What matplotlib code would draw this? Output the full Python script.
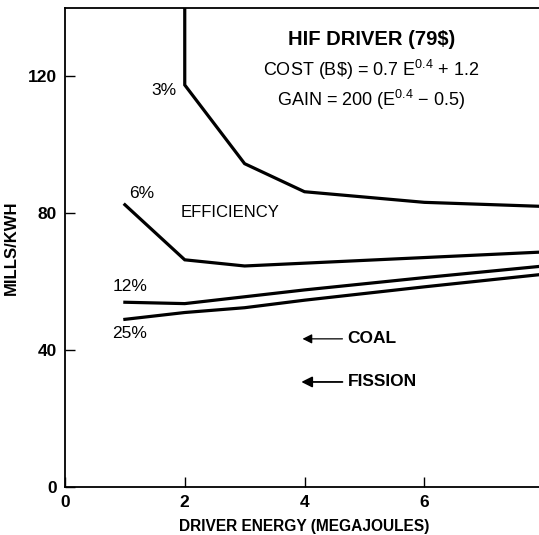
import matplotlib.pyplot as plt

plt.rcParams['font.family'] = ['Liberation Sans', 'DejaVu Sans']
plt.rcParams['mathtext.fontset'] = 'custom'
plt.rcParams['mathtext.rm'] = 'Liberation Sans'

# efficiency curves (driver energy MJ -> mills/kWh)
energy_3 = [2, 2, 3, 4, 6, 8]
mills_3 = [140, 117.5, 94.5, 86.3, 83.2, 82.0]
energy_6 = [1, 2, 3, 8]
mills_6 = [82.5, 66.4, 64.6, 68.7]
energy_12 = [1, 2, 3, 4, 6, 8]
mills_12 = [54.0, 53.6, 55.6, 57.6, 61.2, 64.6]
energy_25 = [1, 2, 3, 4, 6, 8]
mills_25 = [49.0, 51.0, 52.4, 54.6, 58.5, 62.2]

coal_level = 43.3
fission_level = 30.7

x_ticks = [0, 2, 4, 6, 8]
y_ticks = [0, 40, 80, 120]

W, H = 539, 535
fig = plt.figure(figsize=(W / 100, H / 100), dpi=100)
# the right end of the axis runs past the edge of the page in the original
ax = fig.add_axes([65 / W, (H - 487) / H, 479 / W, 479 / H])

for xs, ys in [(energy_3, mills_3), (energy_6, mills_6),
               (energy_12, mills_12), (energy_25, mills_25)]:
    ax.plot(xs, ys, color='black', lw=2.3, solid_joinstyle='miter')

ax.set_xlim(0, 8)
ax.set_ylim(0, 140)
ax.set_xticks(x_ticks)
ax.set_yticks(y_ticks)
ax.tick_params(direction='in', length=7, width=1, labelsize=12.5, pad=6)
for lab in ax.get_xticklabels() + ax.get_yticklabels():
    lab.set_fontweight('bold')
for s in ['left', 'bottom', 'top']:
    ax.spines[s].set_linewidth(1.3)
ax.spines['right'].set_visible(False)

ax.set_xlabel('DRIVER ENERGY (MEGAJOULES)', fontsize=11.2, fontweight='bold', labelpad=6)
ax.set_ylabel('MILLS/KWH', fontsize=12, fontweight='bold', labelpad=6)

# curve labels
ax.text(1.65, 116, '3%', fontsize=12.5, ha='center', va='center')
ax.text(1.28, 85.7, '6%', fontsize=12.5, ha='center', va='center')
ax.text(2.75, 80.2, 'EFFICIENCY', fontsize=12, ha='center', va='center')
ax.text(1.08, 58.5, '12%', fontsize=12.5, ha='center', va='center')
ax.text(1.08, 45.0, '25%', fontsize=12.5, ha='center', va='center')

# title block
ax.text(5.12, 130.8, 'HIF DRIVER (79\\$)', fontsize=14.5, fontweight='bold', ha='center', va='center')
ax.text(5.12, 122.0, 'COST (B\\$) = 0.7 E$^{0.4}$ + 1.2', fontsize=13, ha='center', va='center')
ax.text(5.12, 113.0, 'GAIN = 200 (E$^{0.4}$ $-$ 0.5)', fontsize=13, ha='center', va='center')

# reference levels
ax.annotate('', xy=(3.92, coal_level), xytext=(4.68, coal_level),
            arrowprops=dict(arrowstyle='-|>', color='black', lw=0.9, mutation_scale=14))
ax.text(4.72, coal_level, 'COAL', fontsize=12.5, fontweight='bold', ha='left', va='center')
ax.annotate('', xy=(3.9, fission_level), xytext=(4.68, fission_level),
            arrowprops=dict(arrowstyle='-|>', color='black', lw=1.3, mutation_scale=16))
ax.text(4.72, fission_level, 'FISSION', fontsize=12.5, fontweight='bold', ha='left', va='center')

fig.savefig('out.png', dpi=100)
